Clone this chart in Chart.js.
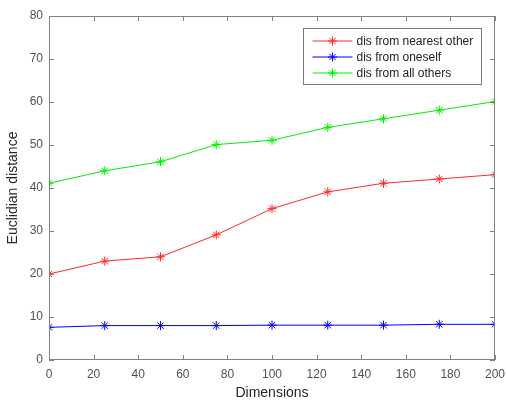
<!DOCTYPE html>
<html>
<head>
<meta charset="UTF-8">
<title>Euclidian distance vs dimensions</title>
<script src="https://cdn.jsdelivr.net/npm/chart.js"></script>
<style>
  body { margin: 0; background: #fff; }
  #wrap { width: 506px; height: 401px; }
</style>
</head>
<body>
<div id="wrap"><canvas id="chart" width="506" height="401"></canvas></div>
<script>
const dims = [0, 25, 50, 75, 100, 125, 150, 175, 200];
const nearestOther = [20, 23, 24, 29.1, 35.2, 39.1, 41.1, 42.1, 43.1];
const oneself = [7.6, 8.0, 8.0, 8.0, 8.1, 8.1, 8.1, 8.3, 8.3];
const allOthers = [41.1, 44, 46.1, 50.1, 51.1, 54.1, 56.1, 58.1, 60.1];
const seriesNames = ['dis from nearest other', 'dis from oneself', 'dis from all others'];
const seriesColors = ['#ff2a2a', '#0000ff', '#00ee00'];

const axisGray = '#808080';
const labelGray = '#505050';
const font = 'Liberation Sans, Arial, sans-serif';

function toPoints(ys) {
  return dims.map((d, i) => ({ x: d, y: ys[i] }));
}

function makeSet(i, ys) {
  return {
    label: seriesNames[i],
    data: toPoints(ys),
    borderColor: seriesColors[i],
    backgroundColor: seriesColors[i],
    borderWidth: 1,
    pointStyle: 'star',
    pointRadius: 4.5,
    pointBorderWidth: 1,
    pointHoverRadius: 4.5,
    tension: 0,
    fill: false
  };
}

// box round the plot with inward ticks, like the original
const framePlugin = {
  id: 'frame',
  afterDraw(chart) {
    const ctx = chart.ctx;
    const a = chart.chartArea;
    const xs = chart.scales.x, ys = chart.scales.y;
    ctx.save();
    ctx.strokeStyle = axisGray;
    ctx.lineWidth = 1;
    ctx.strokeRect(Math.round(a.left) + 0.5, Math.round(a.top) + 0.5,
      Math.round(a.right - a.left) - 1, Math.round(a.bottom - a.top) - 1);
    ctx.beginPath();
    xs.ticks.forEach(t => {
      const px = Math.round(xs.getPixelForValue(t.value)) + 0.5;
      ctx.moveTo(px, a.bottom); ctx.lineTo(px, a.bottom - 5);
      ctx.moveTo(px, a.top); ctx.lineTo(px, a.top + 5);
    });
    ys.ticks.forEach(t => {
      const py = Math.round(ys.getPixelForValue(t.value)) + 0.5;
      ctx.moveTo(a.left, py); ctx.lineTo(a.left + 5, py);
      ctx.moveTo(a.right, py); ctx.lineTo(a.right - 5, py);
    });
    ctx.stroke();

    // legend box
    const bx = 303.5, by = Math.round(a.top) + 12.5;
    const bw = 178, bh = 56;
    ctx.fillStyle = '#fff';
    ctx.fillRect(bx, by, bw, bh);
    ctx.strokeStyle = '#7a7a7a';
    ctx.strokeRect(bx, by, bw, bh);
    ctx.font = '12px ' + font;
    ctx.textBaseline = 'middle';
    chart.data.datasets.forEach((ds, i) => {
      const y = by + 12.5 + i * 16;
      ctx.strokeStyle = ds.borderColor;
      ctx.beginPath();
      ctx.moveTo(bx + 9, y); ctx.lineTo(bx + 49, y);
      ctx.stroke();
      Chart.helpers.drawPoint(ctx, { pointStyle: 'star', radius: 4.5, borderWidth: 1 }, bx + 29, y);
      ctx.fillStyle = '#222';
      ctx.fillText(ds.label, bx + 53, y + 0.5);
    });
    ctx.restore();
  }
};

new Chart(document.getElementById('chart'), {
  type: 'line',
  data: {
    datasets: [makeSet(0, nearestOther), makeSet(1, oneself), makeSet(2, allOthers)]
  },
  options: {
    responsive: false,
    animation: false,
    devicePixelRatio: 1,
    layout: { padding: { left: 0, top: 16, right: 11, bottom: 0 } },
    plugins: { legend: { display: false }, tooltip: { enabled: false } },
    scales: {
      x: {
        type: 'linear',
        min: 0, max: 200,
        grid: { display: false, drawTicks: false },
        border: { display: false },
        ticks: { stepSize: 20, color: labelGray, font: { family: font, size: 12 }, padding: 7, maxRotation: 0 },
        title: { display: true, text: 'Dimensions', color: '#262626', font: { family: font, size: 14 }, padding: { top: 3, bottom: -1 } },
        afterFit(scale) {
          scale.height = 41;
          scale.paddingLeft = 0;
          scale.paddingRight = 0;
        }
      },
      y: {
        min: 0, max: 80,
        grid: { display: false, drawTicks: false },
        border: { display: false },
        ticks: { stepSize: 10, color: labelGray, font: { family: font, size: 12 }, padding: 6 },
        title: { display: true, text: 'Euclidian distance', color: '#262626', font: { family: font, size: 14 }, padding: { top: 5, bottom: 2 } },
        afterFit(scale) {
          scale.width = 49;
          scale.paddingTop = 0;
          scale.paddingBottom = 0;
        }
      }
    }
  },
  plugins: [framePlugin]
});
</script>
</body>
</html>
